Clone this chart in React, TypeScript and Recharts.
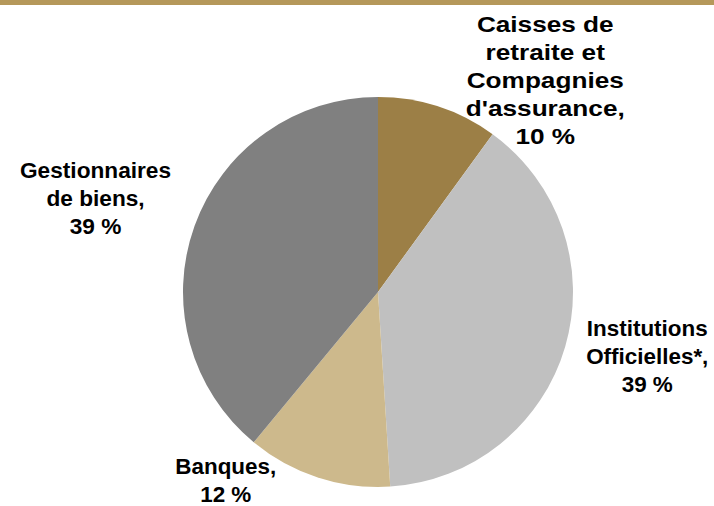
import { Cell, Pie, PieChart } from "recharts";

const categories = [
	"Caisses de\nretraite et\nCompagnies\nd'assurance,",
	"Institutions\nOfficielles*,",
	"Banques,",
	"Gestionnaires\nde biens,",
];
const shares = [10, 39, 12, 39];
const sliceColors = ["#9C7F46", "#C0C0C0", "#CDB98C", "#808080"];

// nudges from the slice edge to the centre of each label block
const labelNudges = [
	[107, -26],
	[82, 10],
	[-92, 3],
	[-99, -27],
];
// the top label is drawn a little wider in the original
const labelStretch = [1.19, 1.02, 1.02, 1.03];

const data = categories.map((name, i) => ({ name, value: shares[i] }));

const RADIAN = Math.PI / 180;
const LINE_HEIGHT = 28;

function renderLabel(props: any) {
	const { cx, cy, midAngle, outerRadius, index, name, value } = props;
	const ex = cx + outerRadius * Math.cos(-midAngle * RADIAN);
	const ey = cy + outerRadius * Math.sin(-midAngle * RADIAN);
	const [dx, dy] = labelNudges[index];
	const lines = [...String(name).split("\n"), `${value} %`];
	const x = ex + dx;
	const y0 = ey + dy - ((lines.length - 1) / 2) * LINE_HEIGHT;
	const sx = labelStretch[index];
	return (
		<g transform={`translate(${x},0) scale(${sx},1) translate(${-x},0)`}>
			<text
				x={x}
				y={y0}
				textAnchor="middle"
				fill="#000"
				fontFamily="'Liberation Sans', Arial, sans-serif"
				fontWeight="bold"
				fontSize={22}
			>
				{lines.map((line, i) => (
					<tspan key={i} x={x} y={y0 + i * LINE_HEIGHT} dominantBaseline="central">
						{line}
					</tspan>
				))}
			</text>
		</g>
	);
}

export default function App() {
	return (
		<div style={{ position: "relative", width: 714, height: 506, background: "#fff" }}>
			<style>{"body{margin:0}"}</style>
			<div
				style={{
					position: "absolute",
					left: 0,
					top: 0,
					width: 714,
					height: 5,
					background: "#B5985A",
				}}
			/>
			<PieChart width={714} height={506} margin={{ top: 0, right: 0, bottom: 0, left: 0 }}>
				<Pie
					data={data}
					dataKey="value"
					nameKey="name"
					cx={378}
					cy={292}
					outerRadius={195}
					startAngle={90}
					endAngle={-270}
					stroke="none"
					label={renderLabel}
					labelLine={false}
					isAnimationActive={false}
				>
					{data.map((d, i) => (
						<Cell key={d.name} fill={sliceColors[i]} />
					))}
				</Pie>
			</PieChart>
		</div>
	);
}
